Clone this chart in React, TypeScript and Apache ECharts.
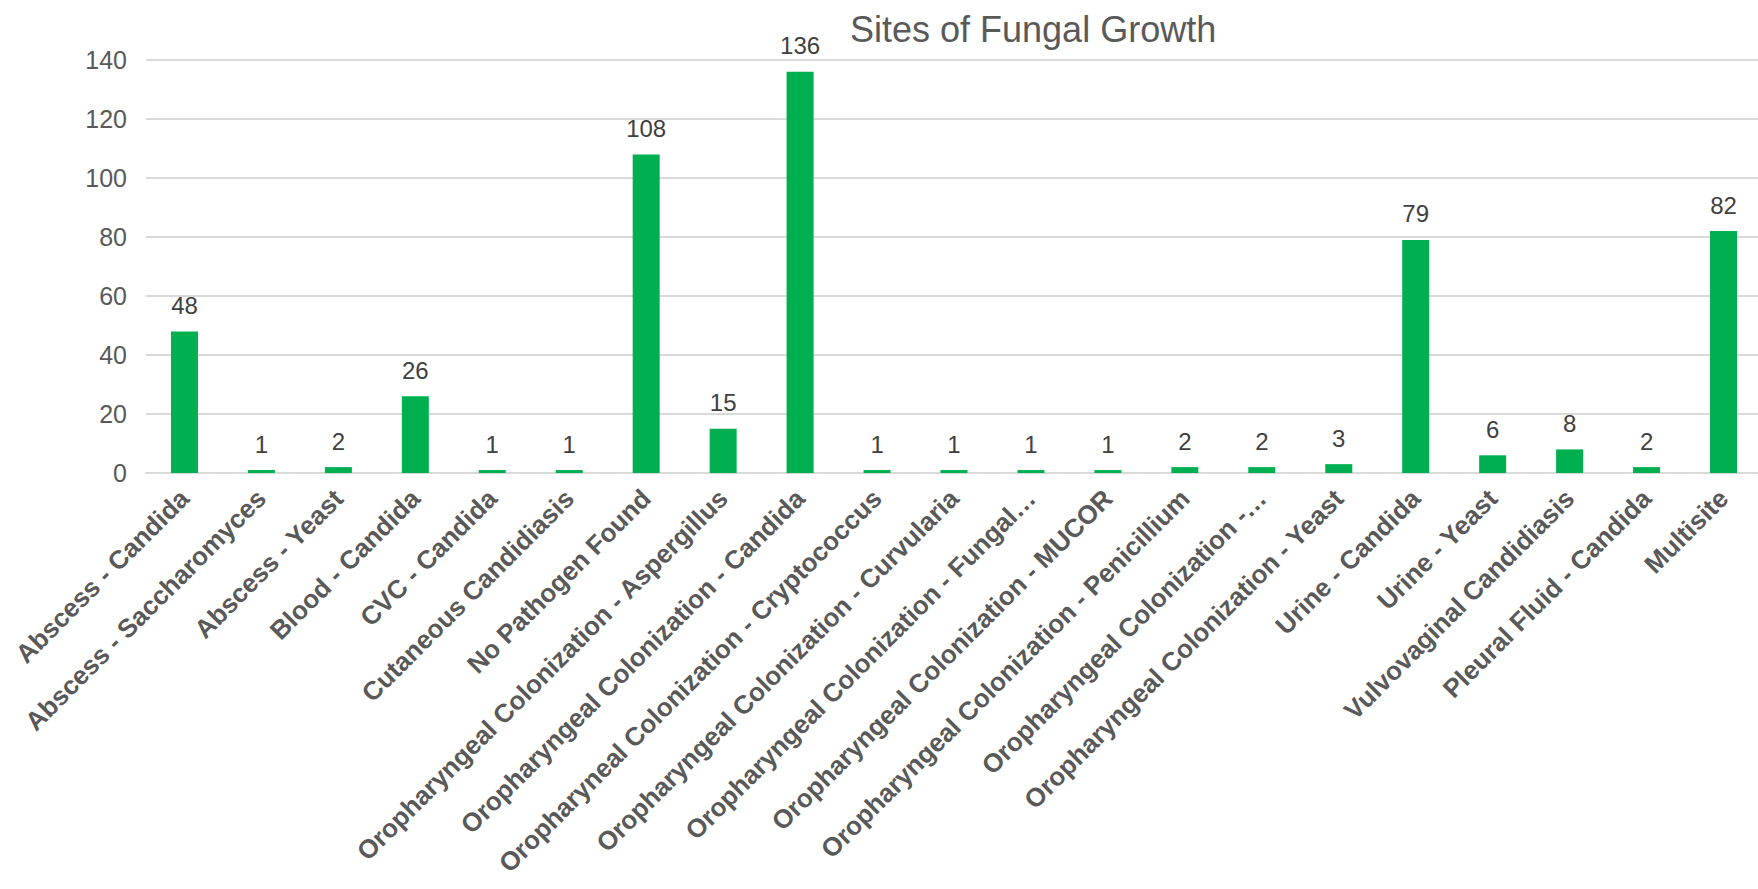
import React, { useEffect, useRef } from "react";
import * as echarts from "echarts";

const categories: string[] = [
  "Abscess - Candida",
  "Abscess - Saccharomyces",
  "Abscess - Yeast",
  "Blood - Candida",
  "CVC - Candida",
  "Cutaneous Candidiasis",
  "No Pathogen Found",
  "Oropharyngeal Colonization - Aspergillus",
  "Oropharyngeal Colonization - Candida",
  "Oropharyneal Colonization - Cryptococcus",
  "Oropharyngeal Colonization - Curvularia",
  "Oropharyngeal Colonization - Fungal…",
  "Oropharyngeal Colonization - MUCOR",
  "Oropharyngeal Colonization - Penicillium",
  "Oropharyngeal Colonization -…",
  "Oropharyngeal Colonization - Yeast",
  "Urine - Candida",
  "Urine - Yeast",
  "Vulvovaginal Candidiasis",
  "Pleural Fluid - Candida",
  "Multisite",
];

const counts: number[] = [48, 1, 2, 26, 1, 1, 108, 15, 136, 1, 1, 1, 1, 2, 2, 3, 79, 6, 8, 2, 82];

const yTicks: number[] = [0, 20, 40, 60, 80, 100, 120, 140];

const titleText = "Sites of Fungal Growth";

export default function App() {
  const ref = useRef<HTMLDivElement>(null);
  useEffect(() => {
    if (!ref.current) return;
    const chart = echarts.init(ref.current, undefined, { renderer: "svg" });
    const font = "'Liberation Sans', Arial, sans-serif";
    chart.setOption({
      animation: false,
      backgroundColor: "#ffffff",
      textStyle: { fontFamily: font },
      title: {
        text: titleText,
        left: 845,
        top: 6,
        textStyle: { fontSize: 36, fontWeight: "normal", color: "#595959", fontFamily: font },
      },
      grid: {
        left: 146,
        right: -4,
        top: 60,
        bottom: 416,
        containLabel: false,
        outerBoundsMode: "none",
      },
      xAxis: {
        type: "category",
        data: categories,
        axisLine: { show: true, lineStyle: { color: "#d9d9d9", width: 2 } },
        axisTick: { show: false },
        axisLabel: {
          interval: 0,
          rotate: 45,
          margin: 21,
          fontSize: 26,
          fontWeight: "bold",
          color: "#595959",
          fontFamily: font,
        },
      },
      yAxis: {
        type: "value",
        min: yTicks[0],
        max: yTicks[yTicks.length - 1],
        interval: 20,
        axisLine: { show: false },
        axisTick: { show: false },
        splitLine: { lineStyle: { color: "#d9d9d9", width: 2 } },
        axisLabel: { fontSize: 25, color: "#595959", margin: 19, fontFamily: font },
      },
      series: [
        {
          type: "bar",
          data: counts,
          barWidth: 27,
          itemStyle: { color: "#00b050" },
          label: {
            show: true,
            position: "top",
            distance: 14,
            fontSize: 24,
            color: "#404040",
            fontFamily: font,
          },
        },
      ],
    });
    return () => chart.dispose();
  }, []);
  return (
    <div
      ref={ref}
      style={{ position: "absolute", left: 0, top: 0, width: 1758, height: 889 }}
    />
  );
}
